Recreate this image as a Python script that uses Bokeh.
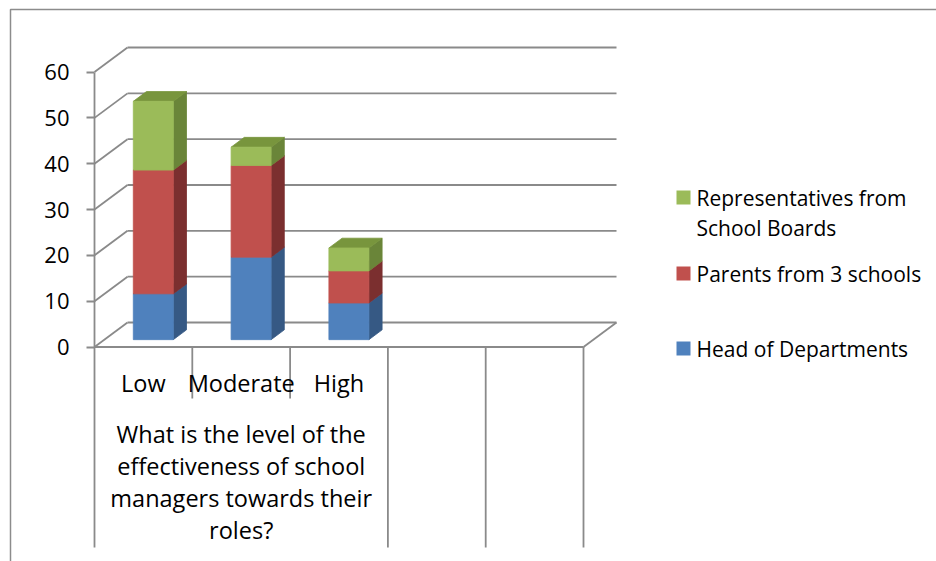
import textwrap

from bokeh.core.properties import value
from bokeh.embed import file_html
from bokeh.models import FixedTicker, LinearAxis, Range1d
from bokeh.plotting import figure
from bokeh.resources import INLINE

# ---- data -------------------------------------------------------------
categories = ["Low", "Moderate", "High"]
question = "What is the level of the effectiveness of school managers towards their roles?"
series_names = ["Head of Departments", "Parents from 3 schools",
                "Representatives from School Boards"]
head_of_departments = [10, 18, 8]
parents_from_3_schools = [27, 20, 7]
representatives_from_boards = [15, 4, 5]
y_ticks = [0, 10, 20, 30, 40, 50, 60]
n_slots = 5  # category slots on the floor (three used, two empty)

# ---- styling ----------------------------------------------------------
front_colors = ["#4F81BD", "#C0504D", "#9BBB59"]
side_colors = ["#365984", "#7B2F2F", "#6A8539"]
top_colors = ["#4471A8", "#A4403D", "#78953D"]
grid_color = "#8A8A8A"
font = "Open Sans"

# ---- page geometry (pixels) ------------------------------------------
W, H = 936, 561
PX0, SLOT_PX = 94.0, 97.8      # pixel x of the front-left corner, pixels per slot
PY0, UNIT_PX = 346.5, 4.583    # pixel y of value 0, pixels per value unit
DEPTH_X_PX, DEPTH_Y_PX = 33.0, 24.5


def X(px):
    return (px - PX0) / SLOT_PX


def Y(py):
    return (PY0 - py) / UNIT_PX


DX = DEPTH_X_PX / SLOT_PX
DY = DEPTH_Y_PX / UNIT_PX
BAR_W = 40.0 / SLOT_PX
D0, D1 = 0.30, 0.70            # bar front / back as a fraction of floor depth

p = figure(width=W, height=H,
           x_range=Range1d(X(0), X(W)), y_range=Range1d(Y(H), Y(0)),
           output_backend="svg", toolbar_location=None,
           x_axis_location=None, y_axis_location=None, min_border=0)
p.xgrid.visible = False
p.ygrid.visible = False
p.outline_line_color = None
p.background_fill_color = "white"
p.border_fill_color = "white"

# chart area border
p.quad(left=[X(10)], right=[X(W + 30)], top=[Y(9)], bottom=[Y(H + 30)],
       fill_color=None, line_color="#8C8C8C", line_width=1.5)

# ---- walls and floor --------------------------------------------------
p.segment(x0=[0] * len(y_ticks), y0=y_ticks,
          x1=[DX] * len(y_ticks), y1=[t + DY for t in y_ticks],
          line_color=grid_color, line_width=1.8)
p.segment(x0=[DX] * len(y_ticks), y0=[t + DY for t in y_ticks],
          x1=[n_slots + DX] * len(y_ticks), y1=[t + DY for t in y_ticks],
          line_color=grid_color, line_width=1.8)
p.segment(x0=[0, n_slots], y0=[0, 0], x1=[n_slots, n_slots + DX], y1=[0, DY],
          line_color=grid_color, line_width=1.8)

# category separators: short inside the question group, long elsewhere
short_sep = list(range(1, len(categories)))
long_sep = [0, len(categories)] + list(range(len(categories) + 1, n_slots + 1))
p.segment(x0=short_sep, y0=[0] * len(short_sep), x1=short_sep,
          y1=[Y(398)] * len(short_sep), line_color=grid_color, line_width=1.8)
p.segment(x0=long_sep, y0=[0] * len(long_sep), x1=long_sep,
          y1=[Y(547)] * len(long_sep), line_color=grid_color, line_width=1.8)

# ---- value axis --------------------------------------------------------
yax = LinearAxis(fixed_location=0, bounds=(0, max(y_ticks)),
                 ticker=FixedTicker(ticks=y_ticks, minor_ticks=[]))
yax.axis_line_color = grid_color
yax.axis_line_width = 1.8
yax.major_tick_line_color = grid_color
yax.major_tick_line_width = 1.8
yax.major_tick_out = 8
yax.major_tick_in = 0
yax.minor_tick_line_color = None
yax.major_label_standoff = 17
yax.major_label_text_font = font
yax.major_label_text_font_size = "22px"
yax.major_label_text_color = "#000000"
p.add_layout(yax, "left")

# ---- stacked 3-D columns ----------------------------------------------
stacks = [head_of_departments, parents_from_3_schools, representatives_from_boards]
bottoms = [0] * len(categories)
for s, vals in enumerate(stacks):
    tops = [b + v for b, v in zip(bottoms, vals)]
    side_xs, side_ys, top_xs, top_ys = [], [], [], []
    lefts, rights, fb, ft = [], [], [], []
    for i, (b, t) in enumerate(zip(bottoms, tops)):
        xl = i + 0.5 - BAR_W / 2
        xr = i + 0.5 + BAR_W / 2
        side_xs.append([xr + D0 * DX, xr + D1 * DX, xr + D1 * DX, xr + D0 * DX])
        side_ys.append([b + D0 * DY, b + D1 * DY, t + D1 * DY, t + D0 * DY])
        top_xs.append([xl + D0 * DX, xr + D0 * DX, xr + D1 * DX, xl + D1 * DX])
        top_ys.append([t + D0 * DY, t + D0 * DY, t + D1 * DY, t + D1 * DY])
        lefts.append(xl + D0 * DX)
        rights.append(xr + D0 * DX)
        fb.append(b + D0 * DY)
        ft.append(t + D0 * DY)
    p.patches(xs=side_xs, ys=side_ys, fill_color=side_colors[s],
              line_color=side_colors[s], line_width=0.8)
    p.patches(xs=top_xs, ys=top_ys, fill_color=top_colors[s],
              line_color=top_colors[s], line_width=0.8)
    p.quad(left=lefts, right=rights, bottom=fb, top=ft,
           fill_color=front_colors[s], line_color=front_colors[s], line_width=0.8)
    bottoms = tops

# ---- category labels ----------------------------------------------------
p.text(x=[i + 0.5 for i in range(len(categories))], y=[Y(382)] * len(categories),
       text=categories, text_font=value(font), text_font_size="23.5px",
       text_align="center", text_baseline="middle", text_color="#000000")

q_lines = textwrap.wrap(question, 24)
p.text(x=[len(categories) / 2] * len(q_lines),
       y=[Y(433 + 32.3 * k) for k in range(len(q_lines))],
       text=q_lines, text_font=value(font), text_font_size="23.5px",
       text_align="center", text_baseline="middle", text_color="#000000")

# ---- legend -------------------------------------------------------------
legend_rows = [348, 273, 197]   # first-line centre for each series, bottom to top
for s, name in enumerate(series_names):
    row = legend_rows[s]
    p.quad(left=[X(676)], right=[X(690)], top=[Y(row - 7)], bottom=[Y(row + 7)],
           fill_color=front_colors[s], line_color=None)
    lines = textwrap.wrap(name, 22)
    p.text(x=[X(696)] * len(lines), y=[Y(row + 30 * k) for k in range(len(lines))],
           text=lines, text_font=value(font), text_font_size="21px",
           text_align="left", text_baseline="middle", text_color="#000000")

open("out.html", "w").write(file_html(p, INLINE))
